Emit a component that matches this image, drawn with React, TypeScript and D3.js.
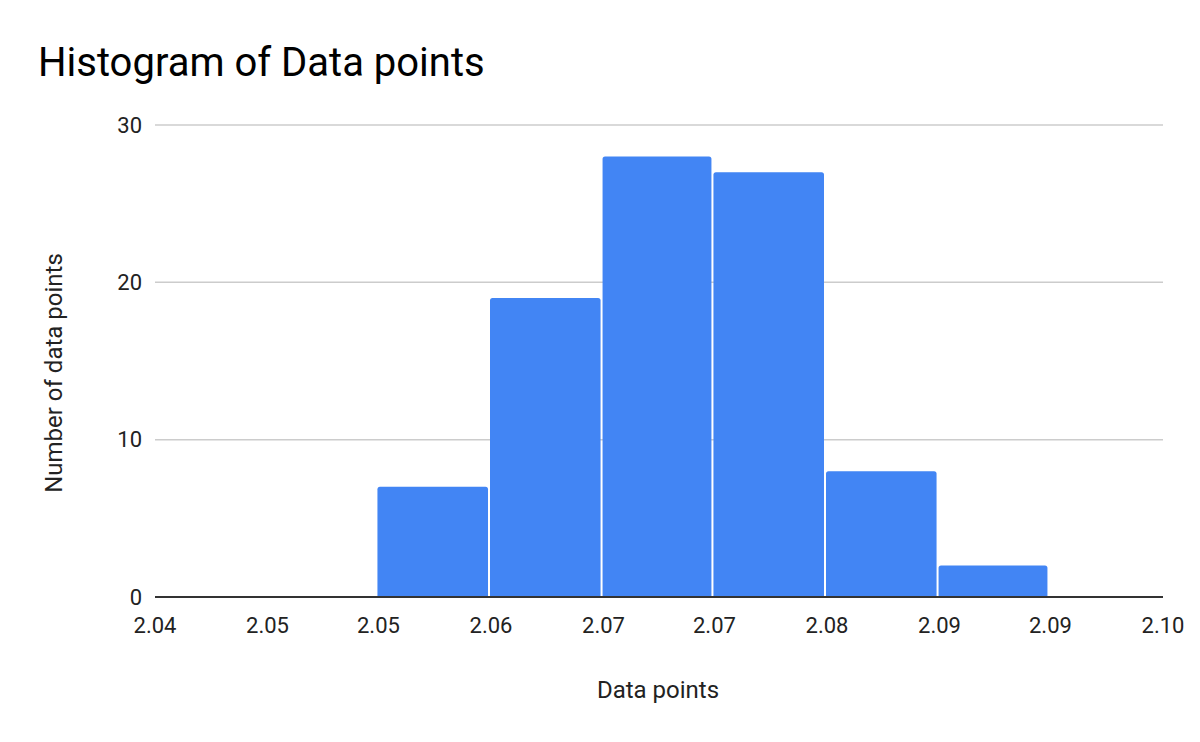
import React, { useEffect, useRef } from 'react';
import * as d3 from 'd3';

// bin edges (tick positions) and their printed labels
const binEdges = [2.04, 2.0467, 2.0533, 2.06, 2.0667, 2.0733, 2.08, 2.0867, 2.0933, 2.1];
const tickLabels = ['2.04', '2.05', '2.05', '2.06', '2.07', '2.07', '2.08', '2.09', '2.09', '2.10'];
const counts = [0, 0, 7, 19, 28, 27, 8, 2, 0];
const yTicks = [0, 10, 20, 30];

const W = 1200;
const H = 742;
const margin = { left: 155, right: 37, top: 125, bottom: 145 };

const App: React.FC = () => {
  const svgRef = useRef<SVGSVGElement | null>(null);

  useEffect(() => {
    const svg = d3.select(svgRef.current);
    svg.selectAll('*').remove();
    const font = 'Roboto, sans-serif';

    const x = d3
      .scaleLinear()
      .domain([binEdges[0], binEdges[binEdges.length - 1]])
      .range([margin.left, W - margin.right]);
    const y = d3
      .scaleLinear()
      .domain([0, 30])
      .range([H - margin.bottom, margin.top]);

    // title
    svg
      .append('text')
      .attr('x', 38)
      .attr('y', 76)
      .attr('font-family', font)
      .attr('font-size', 40)
      .attr('fill', '#000')
      .text('Histogram of Data points');

    // gridlines
    svg
      .append('g')
      .selectAll('line')
      .data(yTicks.filter((t) => t > 0))
      .enter()
      .append('line')
      .attr('x1', margin.left)
      .attr('x2', W - margin.right)
      .attr('y1', (d) => y(d))
      .attr('y2', (d) => y(d))
      .attr('stroke', '#cccccc')
      .attr('stroke-width', 1.5);

    // y labels
    svg
      .append('g')
      .selectAll('text')
      .data(yTicks)
      .enter()
      .append('text')
      .attr('x', 142)
      .attr('y', (d) => y(d))
      .attr('dy', '0.35em')
      .attr('text-anchor', 'end')
      .attr('font-family', font)
      .attr('font-size', 22)
      .attr('fill', '#222')
      .text((d) => String(d));

    // bars
    const bins = counts.map((c, i) => ({ x0: binEdges[i], x1: binEdges[i + 1], c }));
    const r = 2.5;
    svg
      .append('g')
      .selectAll('path')
      .data(bins.filter((b) => b.c > 0))
      .enter()
      .append('path')
      .attr('fill', '#4285f4')
      .attr('d', (b) => {
        const left = x(b.x0) - 1;
        const right = x(b.x1) - 3;
        const top = y(b.c);
        const bottom = y(0);
        return `M${left},${bottom}V${top + r}Q${left},${top} ${left + r},${top}H${right - r}Q${right},${top} ${right},${top + r}V${bottom}Z`;
      });

    // baseline
    svg
      .append('line')
      .attr('x1', margin.left)
      .attr('x2', W - margin.right)
      .attr('y1', y(0))
      .attr('y2', y(0))
      .attr('stroke', '#333333')
      .attr('stroke-width', 2);

    // x labels
    svg
      .append('g')
      .selectAll('text')
      .data(binEdges)
      .enter()
      .append('text')
      .attr('x', (d) => x(d))
      .attr('y', 633)
      .attr('text-anchor', 'middle')
      .attr('font-family', font)
      .attr('font-size', 22)
      .attr('fill', '#222')
      .text((_, i) => tickLabels[i]);

    // axis titles
    svg
      .append('text')
      .attr('x', 658)
      .attr('y', 698)
      .attr('text-anchor', 'middle')
      .attr('font-family', font)
      .attr('font-size', 24)
      .attr('fill', '#222')
      .text('Data points');

    svg
      .append('text')
      .attr('transform', `translate(62, 373) rotate(-90)`)
      .attr('text-anchor', 'middle')
      .attr('font-family', font)
      .attr('font-size', 24)
      .attr('fill', '#222')
      .text('Number of data points');
  }, []);

  return (
    <svg
      ref={svgRef}
      width={W}
      height={H}
      style={{ position: 'absolute', left: 0, top: 0, background: '#fff' }}
    />
  );
};

export default App;
